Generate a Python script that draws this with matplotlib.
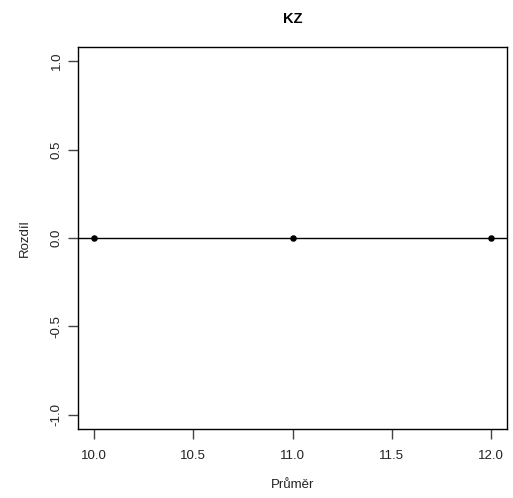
import matplotlib
matplotlib.use("Agg")
import matplotlib.pyplot as plt

# Bland-Altman style data: mean vs. difference
prumer = [10.0, 11.0, 12.0]
rozdil = [0.0, 0.0, 0.0]
x_ticks = [10.0, 10.5, 11.0, 11.5, 12.0]
y_ticks = [-1.0, -0.5, 0.0, 0.5, 1.0]

plt.rcParams['font.family'] = ['Liberation Sans', 'DejaVu Sans']

W, H = 513, 498
fig = plt.figure(figsize=(W / 100, H / 100), dpi=100)
ax = fig.add_axes([78 / W, (H - 429) / H, (507 - 78) / W, (429 - 47) / H])

ax.axhline(0, color='black', lw=1.0, zorder=1)
ax.scatter(prumer, rozdil, s=22, color='black', zorder=2, linewidths=0)

xr = max(prumer) - min(prumer)
ax.set_xlim(min(prumer) - 0.04 * xr, max(prumer) + 0.04 * xr)
ax.set_ylim(-1.08, 1.08)

ax.set_xticks(x_ticks)
ax.set_xticklabels([f"{v:.1f}" for v in x_ticks])
ax.set_yticks(y_ticks)
ax.set_yticklabels([f"{v:.1f}" for v in y_ticks], rotation=90, va='center')

ax.tick_params(axis='both', direction='out', length=7, width=1, color='#444444',
               labelsize=9.5, labelcolor='#222222')
ax.tick_params(axis='x', pad=8)
ax.tick_params(axis='y', pad=4)
for sp in ax.spines.values():
    sp.set_linewidth(1.0)
    sp.set_color('black')

ax.set_title("KZ", fontsize=10.5, fontweight='bold', pad=17)
ax.set_xlabel("Průměr", fontsize=9.5, labelpad=12, color='#222222')
ax.set_ylabel("Rozdíl", fontsize=9.5, labelpad=14, color='#222222')

fig.savefig("out.png", dpi=100)
